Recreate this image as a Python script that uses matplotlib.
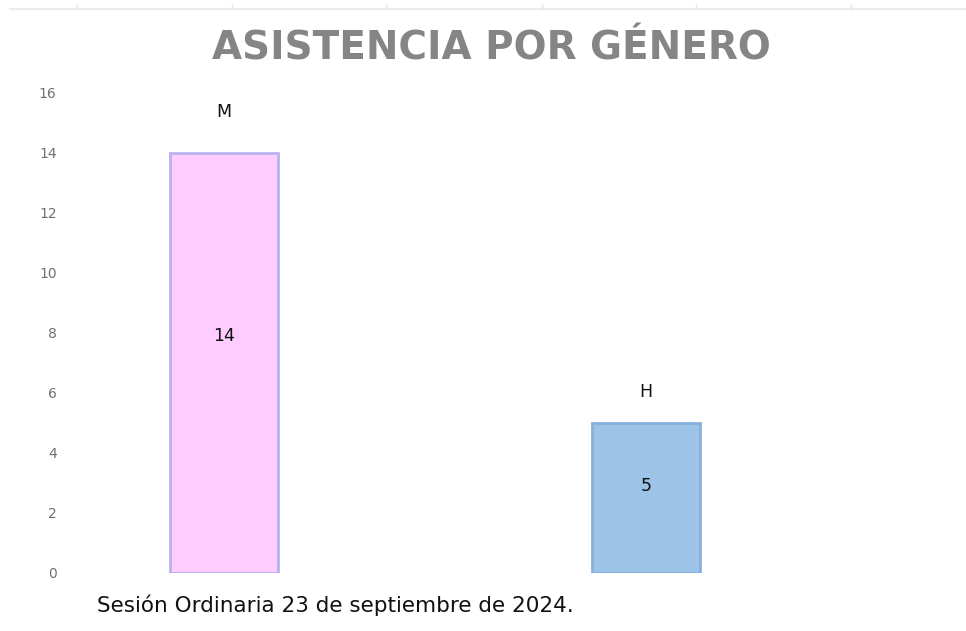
import matplotlib.pyplot as plt
from matplotlib.lines import Line2D

# data
categories = ['M', 'H']
values = [14, 5]
bar_colors = ['#ffccff', '#9dc3e6']
edge_colors = ['#b9b2ee', '#86b0de']
yticks = [0, 2, 4, 6, 8, 10, 12, 14, 16]

# label offsets (in value units) as they sit in the original
cat_offset = [1.37, 1.03]
val_offset = [0.9, 0.4]

fig = plt.figure(figsize=(9.66, 6.31), dpi=100)
ax = fig.add_axes([65/966, 58/631, 865/966, 480/631])

x = range(len(categories))
ax.bar(x, values, width=0.256, color=bar_colors, edgecolor=edge_colors, linewidth=2)

# labels: category above, value inside
for i, (c, v) in enumerate(zip(categories, values)):
    ax.text(i, v + cat_offset[i], c, ha='center', va='center', fontsize=12.5, color='#111111')
    ax.text(i, v / 2 + val_offset[i], str(v), ha='center', va='center', fontsize=12.5, color='#111111')

ax.set_xlim(-0.377, 1.673)
ax.set_ylim(0, 16)
ax.set_yticks(yticks)
ax.set_yticklabels([str(t) for t in yticks], fontsize=10, color='#707070')
ax.set_xticks([])
ax.tick_params(axis='y', length=0, pad=6)
for s in ax.spines.values():
    s.set_visible(False)

fig.text(491/966, 1 - 48/631, 'ASISTENCIA POR GÉNERO', ha='center', va='center',
         fontsize=28, fontweight='bold', color='#858585', family='DejaVu Sans')
fig.text(97/966, 1 - 605/631, 'Sesión Ordinaria 23 de septiembre de 2024.',
         ha='left', va='center', fontsize=15.5, color='#111111', family='DejaVu Sans')

# faint grid line across the top of the sheet
fig.add_artist(Line2D([10/966, 1], [1 - 9/631, 1 - 9/631], color='#ececec', lw=1.5))
for tx in [77, 232, 386, 542, 696, 851]:
    fig.add_artist(Line2D([tx/966, tx/966], [1 - 9/631, 1 - 5/631], color='#e4e4e4', lw=1))

fig.savefig('out.png', dpi=100)
